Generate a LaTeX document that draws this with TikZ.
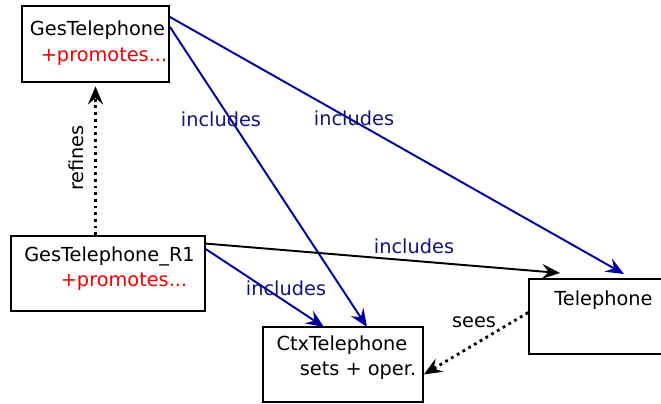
\documentclass[tikz,border=0pt]{standalone}
\usepackage{fontspec}
\setmainfont{DejaVu Sans}
\usepackage{tikz}
\usetikzlibrary{positioning,
                arrows.meta}                % arrow tips

\definecolor{incline}{RGB}{0,0,160}
\definecolor{inctext}{RGB}{20,20,120}
\definecolor{promred}{RGB}{240,0,0}

\tikzset{
    classbox/.style={draw, line width=1pt, inner sep=0pt},
    inclabel/.style={text=inctext},
    prom/.style={text=promred},
    incarrow/.style={-{Stealth[length=3.6mm, width=3mm, inset=1.3mm]}, line width=1.1pt, incline},
    dotarrow/.style={-{Stealth[length=3.6mm, width=3mm, inset=1.3mm]}, line width=1.6pt, dash pattern=on 1.6pt off 2.2pt}
}

\begin{document}
\begin{tikzpicture}[x=0.02cm, y=-0.02cm, font=\fontsize{11}{13}\selectfont]
                \useasboundingbox (0,0) rectangle (661,403);

                \node[classbox, minimum width=2.94cm, minimum height=1.52cm] (gestel) at (95.5,44) {};
                \node (gestelname) at (97.5,30) {GesTelephone};
                \node[prom] (gestelprom) at (104,57) {+promotes...};

                \node[classbox, minimum width=3.88cm, minimum height=1.5cm] (gesrone) at (108,273.5) {};
                \node (gesronename) at (109.5,256) {GesTelephone\_R1};
                \node[prom] (gesroneprom) at (124,282) {+promotes...};

                \node[classbox, minimum width=3.2cm, minimum height=1.5cm] (ctx) at (343,364.5) {};
                \node (ctxname) at (342,345) {CtxTelephone};
                \node (ctxops) at (358,371) {sets + oper.};

                \node[classbox, minimum width=2.98cm, minimum height=1.5cm] (tel) at (603.5,316.5) {};
                \node (telname) at (603.5,300) {Telephone};

                \coordinate (telin) at (624,274);
                \coordinate (telinr) at (560,273);
                \coordinate (ctxin) at (367,327);
                \coordinate (ctxinr) at (324,327);

                \draw[dotarrow, shorten >=2pt] (gesrone.north -| gestel.south) -- (gestel.south);
                \node[rotate=90] (refines) at (76,158) {refines};

                \draw[incarrow] (gestel.20) -- (telin);
                \draw[incarrow] (gestel.13) -- (ctxin);
                \draw[incarrow, black] (gesrone.17) -- (telinr);
                \draw[incarrow] (gesrone.14) -- (ctxinr);
                \draw[dotarrow] (tel.177) -- (ctx.-7);

                \node[inclabel] (incA) at (221,119) {includes};
                \node[inclabel] (incB) at (354,118) {includes};
                \node[inclabel] (incC) at (414,246) {includes};
                \node[inclabel] (incD) at (286,288) {includes};
                \node (sees) at (474,322) {sees};

        \end{tikzpicture}
\end{document}
